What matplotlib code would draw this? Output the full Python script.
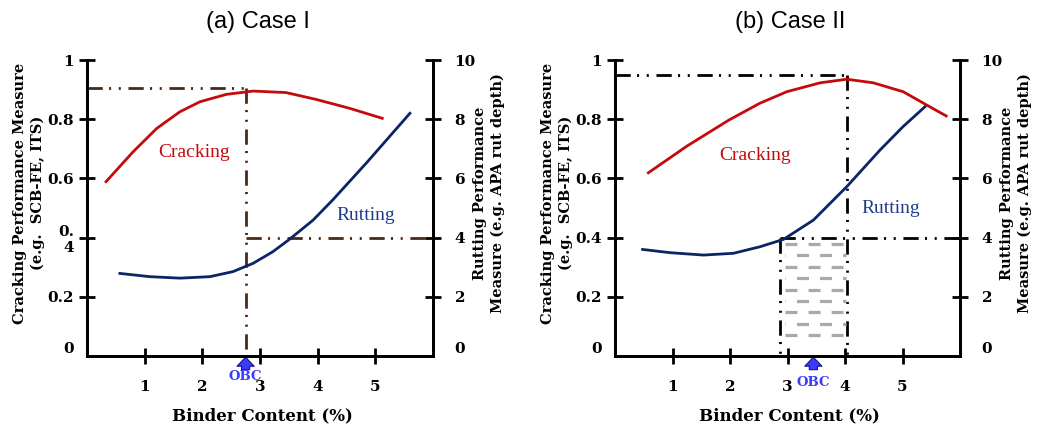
import numpy as np
import matplotlib
matplotlib.use("Agg")
import matplotlib.pyplot as plt

plt.rcParams["lines.scale_dashes"] = False

# ---- data -------------------------------------------------------------
x_ticks = [1, 2, 3, 4, 5]
x_tick_labels = ["1", "2", "3", "4", "5"]
left_ticks = [0, 0.2, 0.4, 0.6, 0.8, 1.0]
left_labels_a = ["0", "0.2", "0.\n4", "0.6", "0.8", "1"]
left_labels_b = ["0", "0.2", "0.4", "0.6", "0.8", "1"]
right_ticks = [0, 2, 4, 6, 8, 10]
right_labels = ["0", "2", "4", "6", "8", "10"]

# Case I
crack_a_x = [0.33, 0.80, 1.21, 1.61, 1.96, 2.42, 2.88, 3.45, 3.97, 4.55, 5.12]
crack_a_y = [0.589, 0.690, 0.769, 0.825, 0.859, 0.884, 0.895, 0.890, 0.867, 0.837, 0.803]
rut_a_x = [0.57, 1.09, 1.61, 2.13, 2.53, 2.88, 3.22, 3.51, 3.92, 4.26, 4.84, 5.60]
rut_a_y = [2.79, 2.68, 2.63, 2.68, 2.85, 3.13, 3.52, 3.94, 4.59, 5.27, 6.51, 8.20]
obc_a = 2.75
crack_max_a = 0.905
rut_limit = 4.0

# Case II
crack_b_x = [0.58, 1.25, 1.98, 2.52, 2.99, 3.57, 4.03, 4.49, 5.01, 5.42, 5.76]
crack_b_y = [0.619, 0.709, 0.797, 0.854, 0.893, 0.923, 0.935, 0.923, 0.893, 0.848, 0.811]
rut_b_x = [0.48, 0.96, 1.54, 2.06, 2.52, 2.93, 3.45, 4.03, 4.61, 5.01, 5.39]
rut_b_y = [3.60, 3.49, 3.41, 3.47, 3.69, 3.94, 4.59, 5.72, 6.96, 7.75, 8.42]
range_b = (2.87, 4.03)
crack_max_b = 0.95

# ---- style ------------------------------------------------------------
RED = "#c40a0a"
NAVY = "#0b2463"
RUT_TXT = "#1f3a8a"
BROWN = "#4a2a17"
OBC_BLUE = "#3b3bff"
DASHDOTDOT = (0, (11, 4.5, 1.5, 5.5, 1.5, 5.5))
SERIF_B = dict(family="DejaVu Serif", weight="bold")
W, H = 1038, 424

fig = plt.figure(figsize=(W / 100, H / 100), dpi=100)


def make_panel(left_px, right_px, left_labels, title, title_x):
    ax = fig.add_axes([left_px / W, 1 - 356 / H, (right_px - left_px) / W, 296 / H])
    ax.set_xlim(0, 6)
    ax.set_ylim(0, 1)
    ax2 = ax.twinx()
    ax2.set_ylim(0, 10)
    for a in (ax, ax2):
        a.spines["top"].set_visible(False)
        for s in ("left", "right", "bottom"):
            a.spines[s].set_linewidth(2.0)
    ax.set_xticks(x_ticks)
    ax.set_xticklabels(x_tick_labels, fontsize=11, **SERIF_B)
    ax.set_yticks(left_ticks)
    ax.set_yticklabels(left_labels, fontsize=11, **SERIF_B)
    ax2.set_yticks(right_ticks)
    ax2.set_yticklabels(right_labels, fontsize=11, **SERIF_B)
    ax.tick_params(axis="x", direction="inout", length=11, width=2, pad=12)
    ax.tick_params(axis="y", direction="inout", length=11, width=2, pad=4)
    ax2.tick_params(axis="y", direction="inout", length=11, width=2, pad=10)
    ax.yaxis.get_major_ticks()[0].tick1line.set_visible(False)
    ax2.yaxis.get_major_ticks()[0].tick2line.set_visible(False)
    for lbl in ax.get_yticklabels() + ax2.get_yticklabels():
        if lbl.get_text() == "0":
            lbl.set_verticalalignment("bottom")
    ax.set_ylabel("Cracking Performance Measure\n(e.g.  SCB-FE, ITS)",
                  fontsize=10.5, linespacing=1.3, **SERIF_B)
    ax.yaxis.set_label_coords(-0.121, 0.551)
    ax2.set_ylabel("Rutting Performance\nMeasure (e.g. APA rut depth)",
                   fontsize=10.5, linespacing=1.3, rotation=90, **SERIF_B)
    ax2.yaxis.set_label_coords(1.117, 0.551)
    ax.set_xlabel("Binder Content (%)", fontsize=12, **SERIF_B)
    ax.xaxis.set_label_coords(0.506, -0.172)
    fig.text(title_x / W, 1 - 22 / H, title, family="Liberation Sans",
             fontsize=17, ha="center", va="center")
    return ax, ax2


def obc_marker(ax, x, text_dy):
    ax.annotate("", xy=(x, -0.004), xycoords=("data", "axes fraction"),
                xytext=(0, -9), textcoords="offset points",
                arrowprops=dict(arrowstyle="simple,head_width=0.95,head_length=0.5,tail_width=0.45",
                                mutation_scale=13, shrinkA=0, shrinkB=0,
                                fc=OBC_BLUE, ec="#15157a", lw=0.8),
                annotation_clip=False)
    ax.annotate("OBC", xy=(x, 0), xycoords=("data", "axes fraction"),
                xytext=(0, text_dy), textcoords="offset points",
                ha="center", va="center", color=OBC_BLUE, fontsize=9.5,
                annotation_clip=False, **SERIF_B)


# ---- (a) Case I ---------------------------------------------------------
axa, axa2 = make_panel(87, 433, left_labels_a, "(a) Case I", 258)
axa.plot([0, obc_a], [crack_max_a, crack_max_a], color=BROWN, lw=2, linestyle=DASHDOTDOT)
axa.plot([obc_a, obc_a], [crack_max_a, 0], color=BROWN, lw=2, linestyle=DASHDOTDOT)
axa2.plot([obc_a, 6], [rut_limit, rut_limit], color=BROWN, lw=2, linestyle=DASHDOTDOT)
axa.plot(crack_a_x, crack_a_y, color=RED, lw=2)
axa2.plot(rut_a_x, rut_a_y, color=NAVY, lw=2)
axa.text(1.85, 0.686, "Cracking", color=RED, family="Liberation Serif", fontsize=14,
         ha="center", va="center")
axa.text(4.84, 0.476, "Rutting", color=RUT_TXT, family="Liberation Serif", fontsize=14,
         ha="center", va="center")
obc_marker(axa, obc_a, -15)

# ---- (b) Case II --------------------------------------------------------
axb, axb2 = make_panel(615, 960, left_labels_b, "(b) Case II", 790)
# hatched OBC range
rows = np.linspace(0.71, 3.78, 9)[::-1]
for i, r in enumerate(rows):
    off = 0 if i % 2 == 0 else 8.3
    axb2.plot([range_b[0] + 0.08, range_b[1] - 0.02], [r, r], color="#a9a9a9", lw=2.3,
              linestyle=(off, (8.6, 8.0)), solid_capstyle="butt", dash_capstyle="butt")
axb.plot([0, range_b[1]], [crack_max_b, crack_max_b], color="black", lw=2, linestyle=DASHDOTDOT)
axb.plot([range_b[1], range_b[1]], [crack_max_b, 0], color="black", lw=2, linestyle=DASHDOTDOT)
axb2.plot([range_b[0], 6], [rut_limit, rut_limit], color="black", lw=2, linestyle=DASHDOTDOT)
axb2.plot([range_b[0], range_b[0]], [rut_limit, 0], color="black", lw=2, linestyle=DASHDOTDOT)
axb.plot(crack_b_x, crack_b_y, color=RED, lw=2)
axb2.plot(rut_b_x, rut_b_y, color=NAVY, lw=2)
axb.text(2.43, 0.676, "Cracking", color=RED, family="Liberation Serif", fontsize=14,
         ha="center", va="center")
axb.text(4.8, 0.497, "Rutting", color=RUT_TXT, family="Liberation Serif", fontsize=14,
         ha="center", va="center")
obc_marker(axb, sum(range_b) / 2, -19)

fig.savefig("out.png", dpi=100)
